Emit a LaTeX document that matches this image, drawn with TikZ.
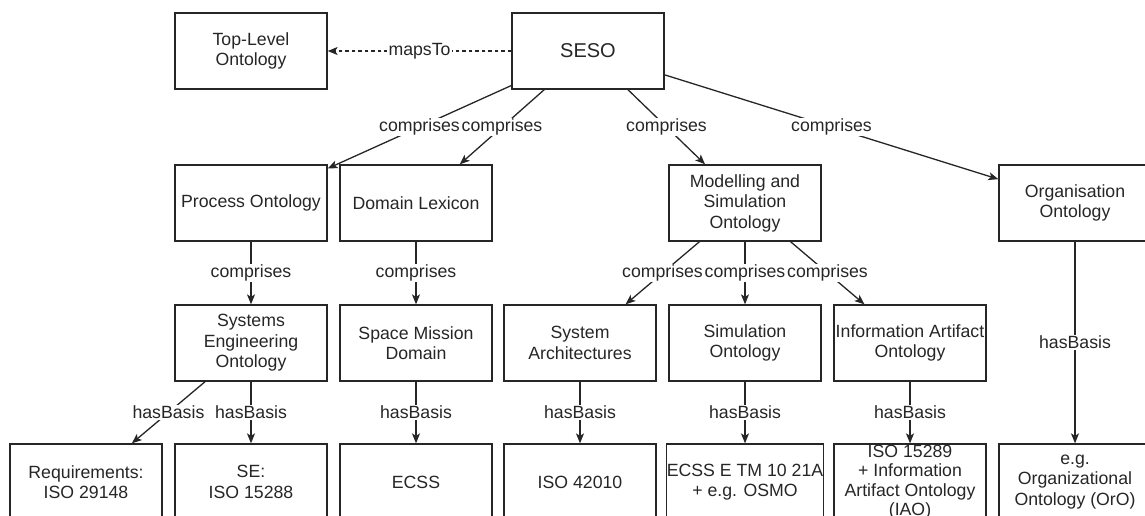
\documentclass[tikz,border=0pt]{standalone}
\usepackage{fontspec}
\setmainfont{Liberation Sans}
\usetikzlibrary{arrows.meta}
\begin{document}
\begin{tikzpicture}[x=1pt,y=-1pt,
  box/.style={draw=black!85, line width=1.3pt, minimum width=152pt, minimum height=76pt,
    align=center, inner sep=0pt, text=black!85, font=\fontsize{17.7}{20.5}\selectfont},
  lbl/.style={fill=white, inner sep=1.2pt, text=black!85, font=\fontsize{17.7}{20.5}\selectfont},
  conn/.style={draw=black!85, line width=1.3pt, -{Stealth[length=10pt,width=8pt,inset=2.5pt]}},
]
\useasboundingbox (0,0) rectangle (1145,515);
\clip (0,0) rectangle (1145,515);
% row 0
\node[box] (top) at (251,51) {Top-Level\\Ontology};
\node[box, font=\fontsize{20}{24}\selectfont] (seso) at (588,51) {SESO};
% row 1
\node[box] (proc) at (251,203) {Process Ontology};
\node[box] (dom) at (416,203) {Domain Lexicon};
\node[box] (ms) at (745,203) {Modelling and\\Simulation\\Ontology};
\node[box] (org) at (1075,203) {Organisation\\Ontology};
% row 2
\node[box] (seo) at (251,343) {Systems\\Engineering\\Ontology};
\node[box] (smd) at (416,343) {Space Mission\\Domain};
\node[box] (sa) at (580,343) {System\\Architectures};
\node[box] (sim) at (745,343) {Simulation\\Ontology};
\node[box] (iao) at (910,343) {Information Artifact\\Ontology};
% row 3
\node[box] (req) at (86,482) {Requirements:\\ISO 29148};
\node[box] (se) at (251,482) {SE:\\ISO 15288};
\node[box] (ecss) at (416,482) {ECSS};
\node[box] (iso42) at (580,482) {ISO 42010};
\node[box] (ecsse) at (745,482) {ECSS E TM 10 21A\\+ e.g. OSMO};
\node[box, font=\fontsize{17.7}{19.3}\selectfont] (iso152) at (910,482) {ISO 15289\\+ Information\\Artifact Ontology\\(IAO)};
\node[box] (oro) at (1075,482) {e.g.\\Organizational\\Ontology (OrO)};
% connectors
\draw[conn, dash pattern=on 3.5pt off 3pt] (seso) -- node[lbl]{mapsTo} (top);
\draw[conn] (seso) -- node[lbl]{comprises} (proc);
\draw[conn] (seso) -- node[lbl]{comprises} (dom);
\draw[conn] (seso) -- node[lbl]{comprises} (ms);
\draw[conn] (seso) -- node[lbl]{comprises} (org);
\draw[conn] (proc) -- node[lbl]{comprises} (seo);
\draw[conn] (dom) -- node[lbl]{comprises} (smd);
\draw[conn] (ms) -- node[lbl]{comprises} (sa);
\draw[conn] (ms) -- node[lbl]{comprises} (sim);
\draw[conn] (ms) -- node[lbl]{comprises} (iao);
\draw[conn] (seo) -- node[lbl]{hasBasis} (req);
\draw[conn] (seo) -- node[lbl]{hasBasis} (se);
\draw[conn] (smd) -- node[lbl]{hasBasis} (ecss);
\draw[conn] (sa) -- node[lbl]{hasBasis} (iso42);
\draw[conn] (sim) -- node[lbl]{hasBasis} (ecsse);
\draw[conn] (iao) -- node[lbl]{hasBasis} (iso152);
\draw[conn] (org) -- node[lbl]{hasBasis} (oro);
\end{tikzpicture}
\end{document}
